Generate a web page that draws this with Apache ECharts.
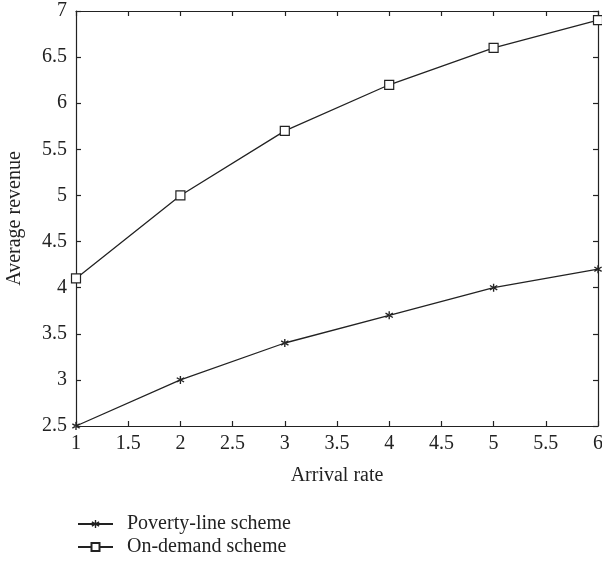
<!DOCTYPE html>
<html>
<head>
<meta charset="utf-8">
<script src="https://cdn.jsdelivr.net/npm/echarts@6/dist/echarts.min.js"></script>
<style>
  html, body { margin: 0; padding: 0; background: #fff; }
  #chart { width: 602px; height: 562px; }
</style>
</head>
<body>
<div id="chart"></div>
<script>
// values
const arrivalRates = [1, 2, 3, 4, 5, 6]
const povertyLine = [2.5, 3.0, 3.4, 3.7, 4.0, 4.2]
const onDemand = [4.1, 5.0, 5.7, 6.2, 6.6, 6.9]
const seriesNames = ['Poverty-line scheme', 'On-demand scheme']

const FONT = '"Liberation Serif", "DejaVu Serif", serif'
const INK = '#222'
const FS = 20

// small asterisk built from three thin bars
const STAR = 'path://M-0.8,-5L0.8,-5L0.8,5L-0.8,5Z' +
  'M-4.7,-2.0L-3.9,-3.4L4.7,2.0L3.9,3.4Z' +
  'M-4.7,2.0L-3.9,3.4L4.7,-2.0L3.9,-3.4Z'

const toPairs = (ys) => arrivalRates.map((x, i) => [x, ys[i]])

const tickAxis = {
  axisLine: { show: true, lineStyle: { color: INK, width: 1.2 } },
  axisTick: { show: true, inside: true, length: 5, lineStyle: { color: INK, width: 1.2 } },
  splitLine: { show: false },
}

const chart = echarts.init(document.getElementById('chart'), null, { renderer: 'canvas' })

chart.setOption({
  animation: false,
  textStyle: { fontFamily: FONT, color: INK },
  grid: { left: 76, right: 4, top: 11, bottom: 136, outerBoundsMode: 'none', containLabel: false },
  xAxis: [
    {
      type: 'value', min: 1, max: 6, interval: 0.5,
      name: 'Arrival rate', nameLocation: 'middle', nameGap: 40,
      nameTextStyle: { fontFamily: FONT, fontSize: FS, color: INK },
      axisLabel: { fontFamily: FONT, fontSize: FS, color: INK, margin: 8 },
      ...tickAxis,
    },
    {
      type: 'value', min: 1, max: 6, interval: 0.5, position: 'top',
      axisLabel: { show: false }, ...tickAxis,
    },
  ],
  yAxis: [
    {
      type: 'value', min: 2.5, max: 7, interval: 0.5,
      name: 'Average revenue', nameLocation: 'middle', nameGap: 51,
      nameTextStyle: { fontFamily: FONT, fontSize: FS, color: INK },
      axisLabel: { fontFamily: FONT, fontSize: FS, color: INK, margin: 9 },
      ...tickAxis,
    },
    {
      type: 'value', min: 2.5, max: 7, interval: 0.5, position: 'right',
      axisLabel: { show: false }, ...tickAxis,
    },
  ],
  legend: {
    orient: 'vertical', left: 77, top: 514, height: 48, padding: 0,
    itemWidth: 35, itemHeight: 10, itemGap: 3,
    textStyle: { fontFamily: FONT, fontSize: FS, color: INK, padding: [0, 0, 0, 9] },
    data: seriesNames,
  },
  series: [
    {
      name: seriesNames[0], type: 'line', data: toPairs(povertyLine),
      symbol: STAR, symbolSize: 8,
      lineStyle: { color: INK, width: 1.3 },
      itemStyle: { color: INK },
    },
    {
      name: seriesNames[1], type: 'line', data: toPairs(onDemand),
      symbol: 'rect', symbolSize: 9,
      lineStyle: { color: INK, width: 1.3 },
      itemStyle: { color: '#fff', borderColor: INK, borderWidth: 1.2 },
    },
  ],
})
</script>
</body>
</html>
